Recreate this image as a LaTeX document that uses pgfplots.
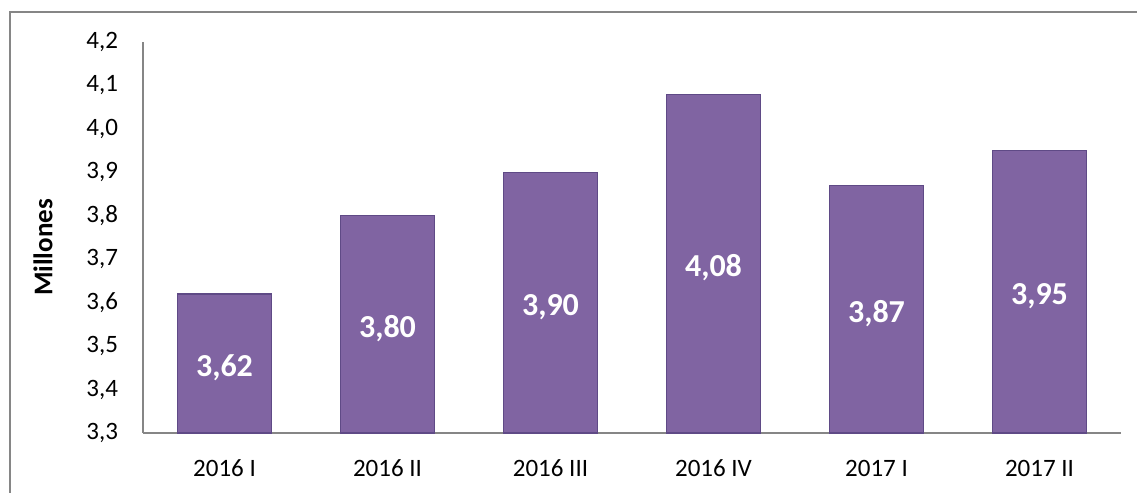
\documentclass[border=0pt]{standalone}
\usepackage{pgfplots}
\pgfplotsset{compat=1.18}
\usepackage{fontspec}
\setmainfont{Carlito}
\definecolor{barfill}{HTML}{8064A2}
\definecolor{baredge}{HTML}{5F4A86}
\definecolor{axgray}{HTML}{868686}
\begin{document}
\begin{tikzpicture}
\useasboundingbox (0,0) rectangle (568.5pt,246.5pt);
\begin{scope}
\clip (0,0) rectangle (568.5pt,246.5pt);
\draw[axgray, line width=0.8pt] (5pt,-20pt) -- (5pt,240.5pt) -- (600pt,240.5pt);
\end{scope}
\begin{axis}[
  at={(71.5pt,30pt)}, anchor=south west,
  scale only axis,
  width=489pt, height=195.5pt,
  xmin=-0.5, xmax=5.5,
  ymin=3.3, ymax=4.2,
  axis lines*=left,
  axis line style={axgray, line width=0.8pt},
  xtick=data,
  xticklabels={2016 I, 2016 II, 2016 III, 2016 IV, 2017 I, 2017 II},
  ytick={3.3,3.4,...,4.25},
  major tick length=0pt,
  /pgf/number format/assume math mode=true,
  yticklabel={\pgfmathprintnumber[fixed,zerofill,precision=1,use comma]{\tick}},
  yticklabel style={font=\fontsize{12.5}{15}\selectfont, xshift=-9pt},
  xticklabel style={font=\fontsize{12.5}{15}\selectfont, yshift=-10pt},
  ylabel={Millones},
  ylabel style={font=\fontsize{13.5}{16}\selectfont\bfseries, at={(axis description cs:0,0.5)}, anchor=center, yshift=50pt, xshift=-5pt},
  ybar, bar width=47pt, bar shift=0pt,
  clip=false,
  nodes near coords={\pgfmathprintnumber[fixed,zerofill,precision=2,use comma]{\pgfplotspointmeta}},
  visualization depends on=y \as \rawy,
  every node near coord/.append style={font=\fontsize{16}{19}\selectfont\bfseries, text=white, anchor=center,
     shift={(axis direction cs:0,{-(\rawy-3.3)/2})}, yshift=-2pt},
]
\addplot[fill=barfill, draw=baredge, line width=0.6pt] coordinates {(0,3.62) (1,3.80) (2,3.90) (3,4.08) (4,3.87) (5,3.95)};
\end{axis}
\end{tikzpicture}
\end{document}
